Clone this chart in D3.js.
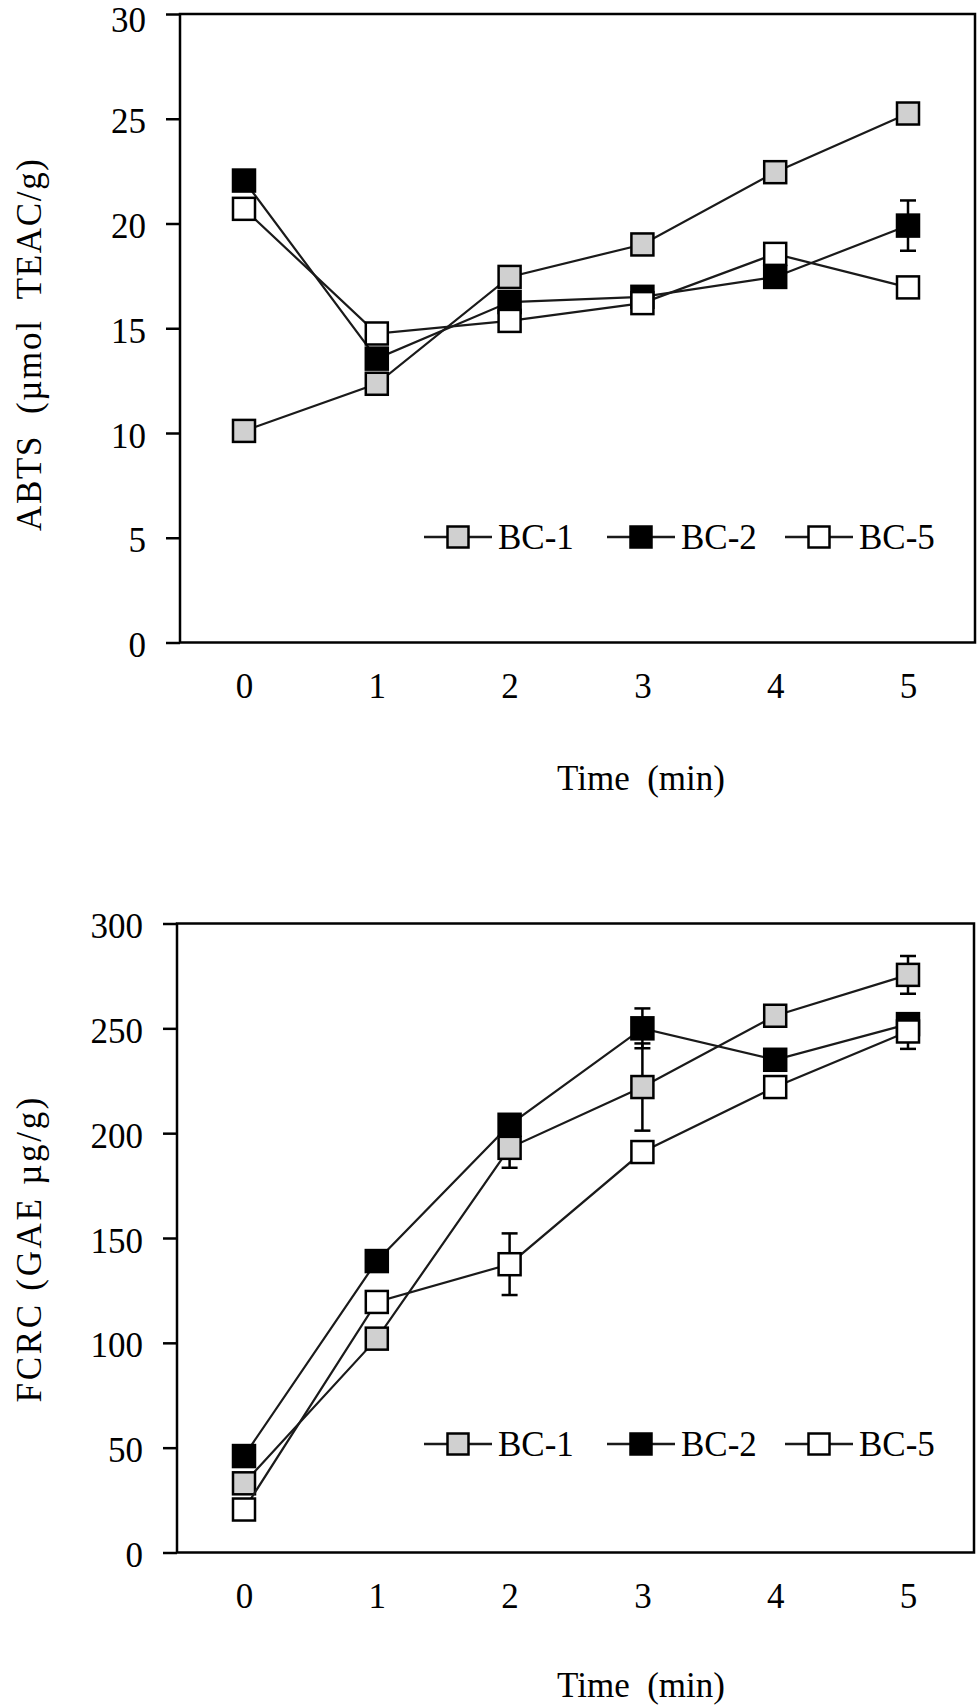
<!DOCTYPE html>
<html>
<head>
<meta charset="utf-8">
<script src="https://cdn.jsdelivr.net/npm/d3@7"></script>
<style>
html,body{margin:0;padding:0;background:#fff;}
svg{display:block;}
text{font-family:"Liberation Serif","Times New Roman",serif;fill:#000;}
</style>
</head>
<body>
<svg id="chart" width="979" height="1708"></svg>
<script>
// ---- data ----
const categories = ["0","1","2","3","4","5"];
const seriesNames = ["BC-1","BC-2","BC-5"];
const seriesFills = ["#d0d0d0","#000000","#ffffff"];

const abtsBC1 = [10.1, 12.35, 17.45, 19.0, 22.45, 25.25];
const abtsBC2 = [22.05, 13.55, 16.25, 16.5, 17.45, 19.9];
const abtsBC5 = [20.7, 14.75, 15.35, 16.2, 18.55, 16.95];
const abtsErr1 = [0.2, 0.2, 0.2, 0.2, 0.2, 0.2];
const abtsErr2 = [0.2, 0.2, 0.2, 0.2, 0.2, 1.2];
const abtsErr5 = [0.2, 0.2, 0.2, 0.2, 0.2, 0.2];
const abtsTicks = [0, 5, 10, 15, 20, 25, 30];

const fcrcBC1 = [33, 102, 193, 222, 256, 275.5];
const fcrcBC2 = [46, 139, 204, 250, 235, 252];
const fcrcBC5 = [20.5, 119.5, 137.5, 191, 222, 248.5];
const fcrcErr1 = [3, 3, 9.5, 20.8, 3, 9];
const fcrcErr2 = [5, 3, 5, 9.5, 4, 5];
const fcrcErr5 = [4, 3, 14.7, 3, 3, 8.3];
const fcrcTicks = [0, 50, 100, 150, 200, 250, 300];

const panels = [
  {
    values: [abtsBC1, abtsBC2, abtsBC5],
    errors: [abtsErr1, abtsErr2, abtsErr5],
    ticks: abtsTicks,
    yTitle: "ABTS  (\u00b5mol  TEAC/g)",
    yTitleLen: 372, yTitleCenter: 345,
    left: 180, right: 975, top: 14, bottom: 642.5,
    legendY: 537, xTitleY: 790, titleX: 641
  },
  {
    values: [fcrcBC1, fcrcBC2, fcrcBC5],
    errors: [fcrcErr1, fcrcErr2, fcrcErr5],
    ticks: fcrcTicks,
    yTitle: "FCRC (GAE \u00b5g/g)",
    yTitleLen: 305, yTitleCenter: 1250,
    left: 177, right: 974, top: 923.5, bottom: 1552.5,
    legendY: 1444, xTitleY: 1697, titleX: 641
  }
];

const svg = d3.select("#chart");
const FS = 35;
const MS = 22; // marker size

panels.forEach((p, pi) => {
  const g = svg.append("g");
  const x = d3.scalePoint().domain(categories).range([244, 908]);
  const y = d3.scaleLinear().domain([p.ticks[0], p.ticks[p.ticks.length-1]]).range([p.bottom, p.top]);

  // y axis
  const ya = g.append("g").attr("transform", `translate(${p.left},0)`)
    .call(d3.axisLeft(y).tickValues(p.ticks).tickSize(14).tickPadding(20));
  ya.select(".domain").remove();
  ya.selectAll(".tick line").attr("stroke", "#000").attr("stroke-width", 2.5);
  ya.selectAll(".tick text").attr("font-size", FS)
    .attr("dy", (d, i) => (pi === 0 && i === p.ticks.length - 1) ? "0.5em" : "0.4em")
    .attr("font-family", "Liberation Serif").attr("fill", "#000");

  // x axis
  const xa = g.append("g").attr("transform", `translate(0,${p.bottom})`)
    .call(d3.axisBottom(x).tickSize(0).tickPadding(31));
  xa.select(".domain").remove();
  xa.selectAll(".tick text").attr("font-size", FS).attr("font-family", "Liberation Serif").attr("fill", "#000");

  // plot border
  g.append("rect")
    .attr("x", p.left).attr("y", p.top)
    .attr("width", p.right - p.left).attr("height", p.bottom - p.top)
    .attr("fill", "none").attr("stroke", "#000").attr("stroke-width", 2.5);

  const line = d3.line().x((d, i) => x(categories[i])).y(d => y(d));

  p.values.forEach((vals, si) => {
    const sg = g.append("g");
    sg.append("path").attr("d", line(vals))
      .attr("fill", "none").attr("stroke", "#1a1a1a").attr("stroke-width", 2.2);
    // error bars
    const errs = p.errors[si];
    vals.forEach((v, i) => {
      const cx = x(categories[i]);
      const y1 = y(v + errs[i]), y2 = y(v - errs[i]);
      sg.append("line").attr("x1", cx).attr("x2", cx).attr("y1", y1).attr("y2", y2)
        .attr("stroke", "#000").attr("stroke-width", 2.5);
      [y1, y2].forEach(yy => sg.append("line").attr("x1", cx - 8).attr("x2", cx + 8)
        .attr("y1", yy).attr("y2", yy).attr("stroke", "#000").attr("stroke-width", 2.5));
    });
    sg.selectAll("rect.m").data(vals).join("rect").attr("class", "m")
      .attr("x", (d, i) => x(categories[i]) - MS/2)
      .attr("y", d => y(d) - MS/2)
      .attr("width", MS).attr("height", MS)
      .attr("fill", seriesFills[si]).attr("stroke", "#000").attr("stroke-width", 2.5);
  });

  // legend
  const legendX = [424, 607, 785];
  const lg = g.append("g");
  seriesNames.forEach((name, i) => {
    const lx = legendX[i];
    lg.append("line").attr("x1", lx).attr("x2", lx + 68).attr("y1", p.legendY).attr("y2", p.legendY)
      .attr("stroke", "#1a1a1a").attr("stroke-width", 2.5);
    lg.append("rect").attr("x", lx + 34 - 10.5).attr("y", p.legendY - 10.5).attr("width", 21).attr("height", 21)
      .attr("fill", seriesFills[i]).attr("stroke", "#000").attr("stroke-width", 2.5);
    lg.append("text").attr("x", lx + 74).attr("y", p.legendY + 12).attr("font-size", FS).text(name);
  });

  // x title
  g.append("text").attr("x", p.titleX).attr("y", p.xTitleY).attr("text-anchor", "middle")
    .attr("font-size", FS).attr("xml:space", "preserve").style("white-space", "pre").text("Time  (min)");

  // y title
  g.append("text")
    .attr("transform", `translate(41,${p.yTitleCenter}) rotate(-90)`)
    .attr("text-anchor", "middle").attr("font-size", FS)
    .attr("textLength", p.yTitleLen).attr("lengthAdjust", "spacing")
    .style("white-space", "pre").text(p.yTitle);
});
</script>
</body>
</html>
